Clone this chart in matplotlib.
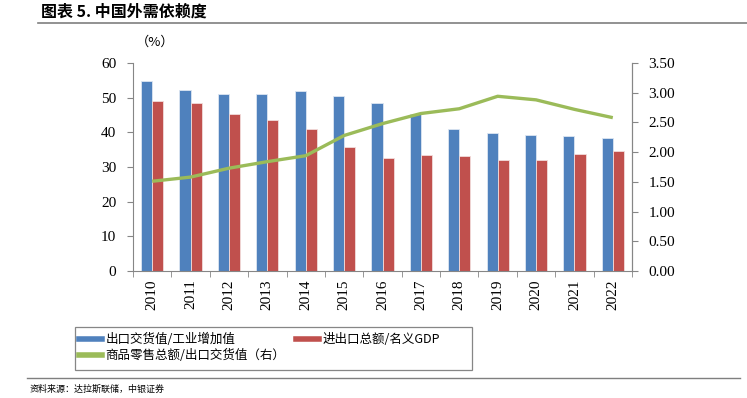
import numpy as np
import matplotlib.pyplot as plt
from matplotlib.lines import Line2D
from matplotlib.patches import Rectangle

years = ['2010', '2011', '2012', '2013', '2014', '2015', '2016',
         '2017', '2018', '2019', '2020', '2021', '2022']
export_ratio = [54.9, 52.3, 51.1, 51.1, 51.9, 50.5, 48.6,
                45.2, 41.1, 39.9, 39.3, 38.8, 38.3]
trade_gdp = [48.9, 48.5, 45.3, 43.5, 41.0, 35.7, 32.7,
             33.4, 33.2, 32.1, 31.9, 33.7, 34.6]
retail_export = [1.51, 1.58, 1.73, 1.84, 1.94, 2.28, 2.48,
                 2.65, 2.73, 2.94, 2.88, 2.72, 2.58]

cjk = ['Noto Sans CJK SC', 'DejaVu Sans']
serif = 'Liberation Serif'
blue = '#4F81BD'
red = '#C0504D'
green = '#9BBB59'
grey = '#868686'

fig = plt.figure(figsize=(7.47, 3.98), dpi=100)
ax = fig.add_axes([133/747, 1-271/398, 499/747, 208/398])
ax2 = ax.twinx()

x = np.arange(len(years))
w = 0.29
ax.bar(x - w/2, export_ratio, w, color=blue, edgecolor='#dce6f2', linewidth=0.6, zorder=2)
ax.bar(x + w/2, trade_gdp, w, color=red, edgecolor='#f2dcdb', linewidth=0.6, zorder=2)
ax2.plot(x, retail_export, color=green, lw=2.4, solid_capstyle='butt')

ax.set_xlim(-0.5, len(years) - 0.5)
ax.set_ylim(0, 60)
ax.set_yticks(range(0, 61, 10))
ax2.set_ylim(0, 3.5)
ax2.set_yticks(np.arange(0, 3.51, 0.5))
ax2.set_yticklabels(['%.2f' % v for v in np.arange(0, 3.51, 0.5)])

ax.set_xticks(x)
ax.set_xticklabels(years, rotation=90)
ax.set_xticks(np.arange(-0.5, len(years), 1), minor=True)
ax.tick_params(axis='x', which='major', length=0, pad=6)
ax.tick_params(axis='x', which='minor', length=4, color=grey, direction='out')
ax.tick_params(axis='y', length=4, color=grey, pad=8)
ax2.tick_params(axis='y', length=4, color=grey, pad=8)

for a in (ax, ax2):
    a.spines['top'].set_visible(False)
    for s in ('left', 'right', 'bottom'):
        a.spines[s].set_color(grey)
        a.spines[s].set_linewidth(0.8)
    for lab in a.get_xticklabels() + a.get_yticklabels():
        lab.set_fontfamily(serif)
        lab.set_fontsize(11)
ax2.spines['left'].set_visible(False)
ax2.spines['bottom'].set_visible(False)

fig.text(136/747, 1-42/398, '（%）', family=cjk, fontsize=9.5, ha='left', va='center')

# legend (frame drawn separately so it can be wider than its content)
handles = [Line2D([], [], color=blue, lw=4),
           Line2D([], [], color=green, lw=4),
           Line2D([], [], color=red, lw=4)]
labels = ['出口交货值/工业增加值', '商品零售总额/出口交货值（右）', '进出口总额/名义GDP']
leg = fig.legend(handles, labels, loc='upper left', ncol=2,
                 bbox_to_anchor=(79/747, 1-333/398),
                 prop={'family': cjk, 'size': 9}, frameon=False,
                 handlelength=1.8, handletextpad=0.3, columnspacing=0.9,
                 borderpad=0, labelspacing=0.25, borderaxespad=0)
fig.add_artist(Rectangle((75/747, 1-370/398), 397/747, 43/398,
                         transform=fig.transFigure, fill=False,
                         edgecolor=grey, lw=0.9))

# title, rules and source
fig.text(41/747, 1-12/398, '图表 5. 中国外需依赖度', family=cjk, fontsize=11.5,
         fontweight='bold', ha='left', va='center')
fig.add_artist(Line2D([38/747, 1], [1-23/398, 1-23/398], color='#7f7f7f', lw=1.2))
fig.add_artist(Line2D([27/747, 740/747], [1-378/398, 1-378/398], color='#7f7f7f', lw=1.0))
fig.text(30/747, 1-389/398, '资料来源：达拉斯联储，中银证券', family=cjk, fontsize=6.5,
         style='italic', ha='left', va='center')

fig.savefig('out.png', dpi=100)
